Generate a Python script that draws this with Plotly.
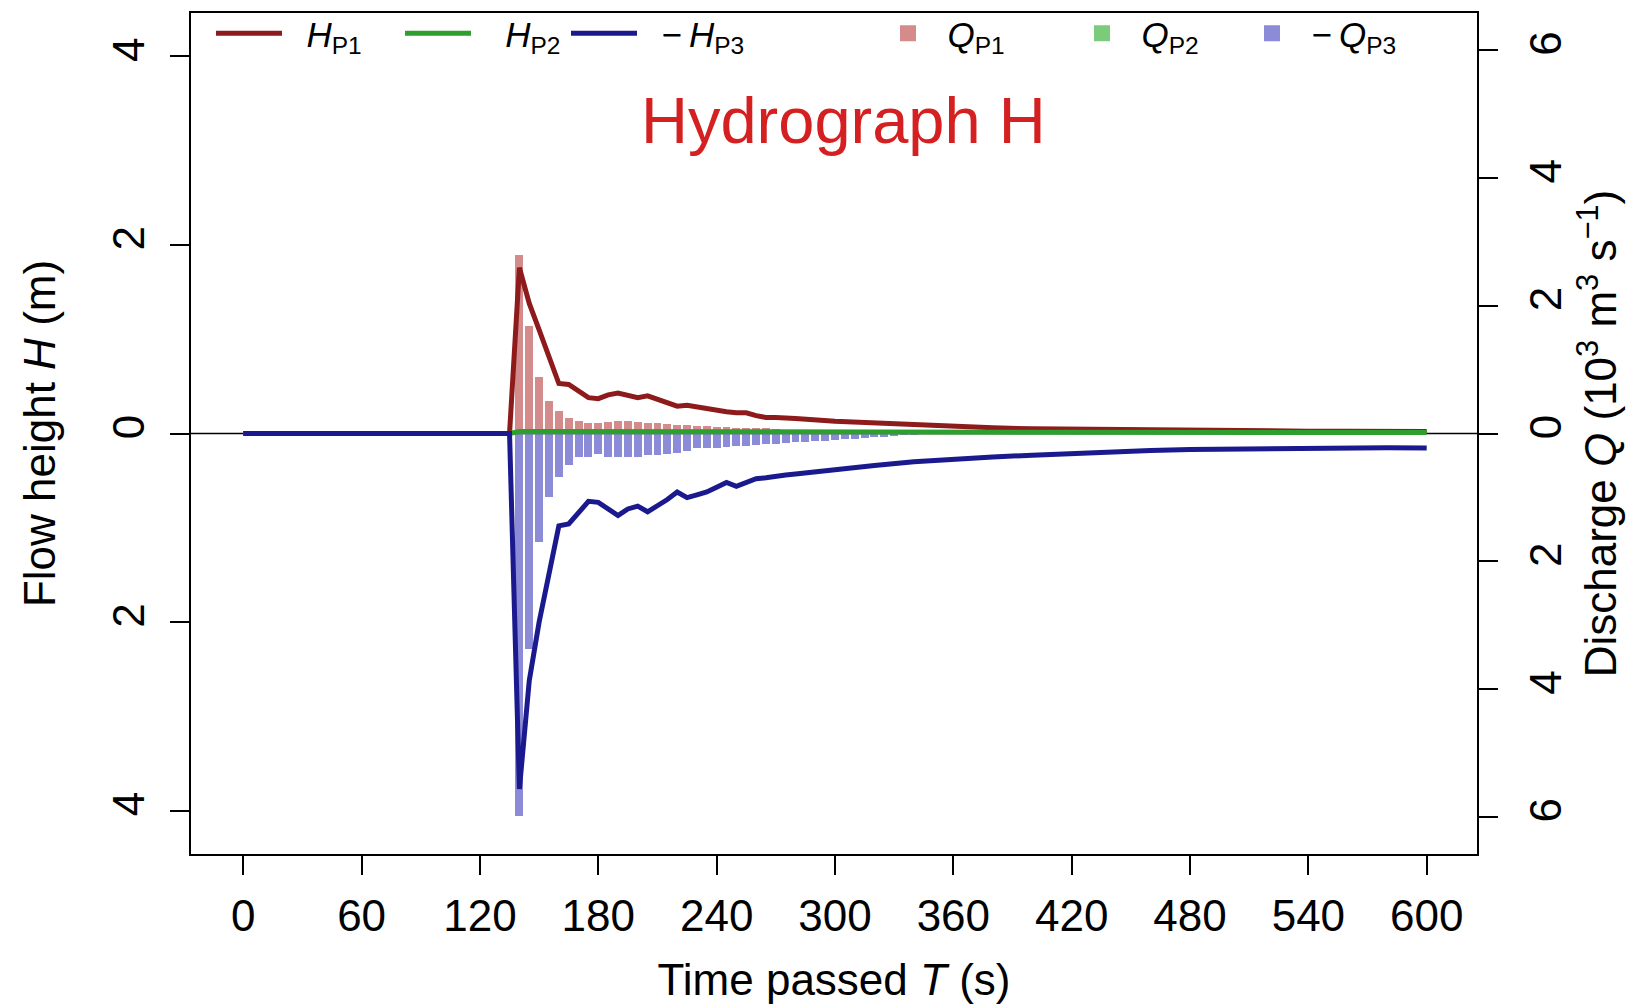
import plotly.graph_objects as go

# ---------------- data ----------------
t_line = [0, 135, 140, 145, 150, 155, 160, 165, 170, 175, 180, 185, 190, 195, 200,
          205, 210, 215, 220, 225, 230, 235, 240, 245, 250, 255, 260, 265, 270, 275,
          280, 300, 320, 340, 360, 380, 400, 420, 440, 460, 480, 500, 520, 540, 560,
          580, 600]
H_P1 = [0, 0, 1.76, 1.38, 1.10, 0.82, 0.53, 0.52, 0.45, 0.38, 0.37, 0.41, 0.43, 0.41, 0.38,
        0.40, 0.36, 0.32, 0.29, 0.30, 0.28, 0.26, 0.24, 0.23, 0.22, 0.22, 0.19, 0.17, 0.17, 0.17,
        0.16, 0.13, 0.11, 0.09, 0.07, 0.06, 0.05, 0.045, 0.04, 0.035, 0.03, 0.03, 0.028, 0.025, 0.025,
        0.022, 0.02]
H_P2 = [0, 0, 0.02, 0.02, 0.015, 0.015, 0.012, 0.012, 0.012, 0.01, 0.01, 0.01, 0.01, 0.01, 0.01,
        0.01, 0.01, 0.01, 0.01, 0.01, 0.01, 0.01, 0.01, 0.01, 0.01, 0.01, 0.01, 0.01, 0.01, 0.01,
        0.01, 0.01, 0.01, 0.01, 0.01, 0.01, 0.01, 0.01, 0.01, 0.01, 0.01, 0.01, 0.01, 0.01, 0.01,
        0.01, 0.01]
H_P3_neg = [0, 0, -3.77, -2.62, -2.00, -1.48, -0.98, -0.96, -0.83, -0.72, -0.73, -0.80, -0.87, -0.80, -0.77,
            -0.83, -0.77, -0.70, -0.62, -0.68, -0.65, -0.62, -0.57, -0.52, -0.56, -0.52, -0.48, -0.47, -0.45, -0.44,
            -0.43, -0.38, -0.34, -0.30, -0.27, -0.25, -0.23, -0.21, -0.195, -0.18, -0.17, -0.165, -0.16, -0.15, -0.15,
            -0.15, -0.155]

t_bar = [140, 145, 150, 155, 160, 165, 170, 175, 180, 185, 190, 195, 200, 205, 210,
         215, 220, 225, 230, 235, 240, 245, 250, 255, 260, 265, 270, 275, 280, 285,
         290, 295, 300, 305, 310, 315, 320, 325, 330, 335, 340, 345, 350]
Q_P1 = [2.79, 1.69, 0.88, 0.51, 0.35, 0.25, 0.19, 0.17, 0.17, 0.18, 0.19, 0.19, 0.18, 0.17, 0.17,
        0.15, 0.13, 0.13, 0.12, 0.11, 0.10, 0.10, 0.09, 0.09, 0.08, 0.08, 0.07, 0.06, 0.06, 0.05,
        0.05, 0.05, 0.04, 0.04, 0.03, 0.03, 0.03, 0.02, 0.02, 0.02, 0.01, 0.01, 0.01]
Q_P2 = [0.04, 0.03, 0.03, 0.02, 0.02, 0.02, 0.02, 0.02, 0.02, 0.02, 0.02, 0.02, 0.02, 0.02, 0.02,
        0.02, 0.02, 0.02, 0.02, 0.02, 0.02, 0.02, 0.02, 0.02, 0.02, 0.02, 0.02, 0.02, 0.02, 0.02,
        0.02, 0.02, 0.02, 0.02, 0.02, 0.02, 0.02, 0.02, 0.02, 0.02, 0.02, 0.02, 0.02]
Q_P3_neg = [-5.98, -3.37, -1.70, -1.00, -0.68, -0.49, -0.37, -0.36, -0.32, -0.36, -0.36, -0.36, -0.36, -0.33, -0.33,
            -0.32, -0.30, -0.27, -0.23, -0.22, -0.22, -0.21, -0.20, -0.19, -0.18, -0.17, -0.16, -0.15, -0.14, -0.13,
            -0.12, -0.11, -0.10, -0.09, -0.08, -0.07, -0.06, -0.05, -0.04, -0.03, -0.02, -0.015, -0.01]

x_ticks = [0, 60, 120, 180, 240, 300, 360, 420, 480, 540, 600]
h_ticks = [-4, -2, 0, 2, 4]
h_tick_text = ["4", "2", "0", "2", "4"]
q_ticks = [-6, -4, -2, 0, 2, 4, 6]
q_tick_text = ["6", "4", "2", "0", "2", "4", "6"]

# ---------------- styles ----------------
FONT = "Liberation Sans, Arial, Helvetica, sans-serif"
C_H1, C_H2, C_H3 = "#8E1B1B", "#2E9E2E", "#1A1A8E"
C_Q1, C_Q2, C_Q3 = "rgba(200,110,110,0.8)", "rgba(90,190,90,0.8)", "rgba(110,110,205,0.8)"
LEG_FONT = dict(family=FONT, size=35, color="black")
SP3 = "\u00a0\u00a0\u00a0"
SP2 = "\u00a0\u00a0"

fig = go.Figure()

# bars on primary y (Q axis, right side) -> drawn below lines
bar_specs = [(Q_P1, C_Q1, "<i>Q</i><sub>P1</sub>", "legend4", "q1"),
             (Q_P2, C_Q2, "<i>Q</i><sub>P2</sub>", "legend5", "q2"),
             (Q_P3_neg, C_Q3, "\u2212\u2009<i>Q</i><sub>P3</sub>", "legend6", "q3")]
for vals, col, nm, lg, grp in bar_specs:
    fig.add_trace(go.Bar(x=t_bar, y=vals, width=4.0, marker=dict(color=col, line=dict(width=0)),
                         name=nm, legendgroup=grp, showlegend=False, yaxis="y"))
    # legend key (square) for the bar series
    fig.add_trace(go.Scatter(x=[None], y=[None], mode="markers",
                             marker=dict(symbol="square", size=22, color=col),
                             name=SP2 + nm, legendgroup=grp, legend=lg, showlegend=True, yaxis="y"))

# lines on y2 (H axis, left side)
line_specs = [(H_P1, C_H1, "\u00a0\u00a0<i>H</i><sub>P1</sub>", "legend"),
              (H_P2, C_H2, SP3 + "<i>H</i><sub>P2</sub>", "legend2"),
              (H_P3_neg, C_H3, SP2 + "\u2212\u2009<i>H</i><sub>P3</sub>", "legend3")]
for vals, col, nm, lg in line_specs:
    fig.add_trace(go.Scatter(x=t_line, y=vals, mode="lines", line=dict(color=col, width=5),
                             name=nm, legend=lg, showlegend=True, yaxis="y2"))

# page geometry (browser body has an 8px margin)
OFF = 8
W, H = 1634, 1000
ML, MT = 183, 5
PW, PH = 1286, 841
MR, MB = W - ML - PW, H - MT - PH


def px2x(px):  # page px -> paper x
    return (px - OFF - ML) / PW


def py2y(py):  # page px -> paper y
    return 1 - (py - OFF - MT) / PH


def leg(px, iw):
    return dict(x=px2x(px), y=py2y(4), xanchor="left", yanchor="top", orientation="h",
                bgcolor="rgba(0,0,0,0)", borderwidth=0, font=LEG_FONT, itemwidth=iw,
                itemclick=False, itemdoubleclick=False, visible=True)


axis_common = dict(showline=True, linecolor="black", linewidth=2, ticks="outside",
                   ticklen=19, tickwidth=2, tickcolor="black", showgrid=False, zeroline=False,
                   tickfont=dict(family=FONT, size=44, color="black"))

fig.update_layout(
    width=W, height=H,
    margin=dict(l=ML, r=MR, t=MT, b=MB, autoexpand=False),
    paper_bgcolor="white", plot_bgcolor="white",
    barmode="overlay", bargap=0, showlegend=True,
    font=dict(family=FONT, color="black"),
    xaxis=dict(range=[-26.5, 625.5], tickvals=x_ticks, mirror=True,
               title=dict(text="Time passed <i>T</i> (s)", font=dict(family=FONT, size=44), standoff=25),
               ticklabelstandoff=3, **axis_common),
    yaxis=dict(range=[-6.58, 6.58], side="right", tickvals=q_ticks, ticktext=q_tick_text,
               tickangle=-90, ticklabelstandoff=10,
               title=dict(text="Discharge <i>Q</i> (10<sup>3</sup> m<sup>3</sup> s<sup>\u22121</sup>)",
                          font=dict(family=FONT, size=44), standoff=14),
               **axis_common),
    yaxis2=dict(range=[-4.46, 4.46], side="left", overlaying="y", tickvals=h_ticks, ticktext=h_tick_text,
                tickangle=-90, ticklabelstandoff=8,
                title=dict(text="Flow height <i>H</i> (m)", font=dict(family=FONT, size=44), standoff=35),
                **axis_common),
    legend=leg(211, 66),
    legend2=leg(400, 66),
    legend3=leg(566, 66),
    legend4=leg(888, 30),
    legend5=leg(1082, 30),
    legend6=leg(1252, 30),
    shapes=[dict(type="line", xref="paper", x0=0, x1=1, yref="y", y0=0, y1=0,
                 line=dict(color="black", width=1.5), layer="below")],
    annotations=[dict(text="Hydrograph H", x=px2x(843), y=py2y(120), xref="paper", yref="paper",
                      showarrow=False, font=dict(family=FONT, size=65, color="#D42020"),
                      xanchor="center", yanchor="middle")],
)

fig.write_html("out.html")
